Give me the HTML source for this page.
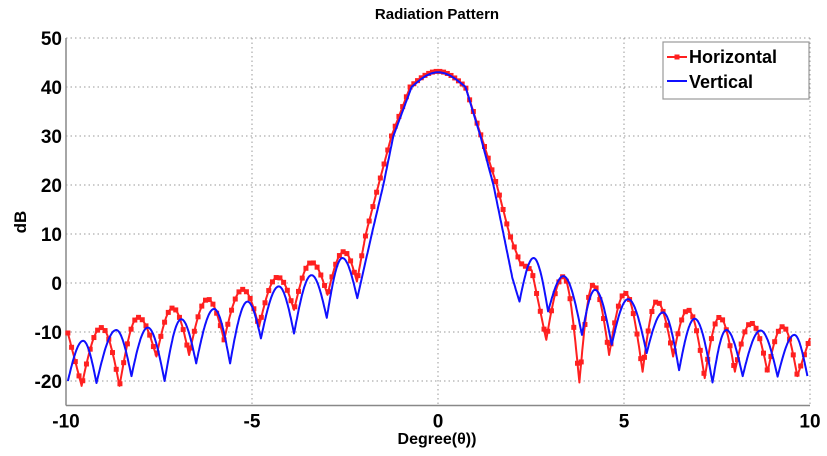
<!DOCTYPE html>
<html><head><meta charset="utf-8">
<style>
html,body{margin:0;padding:0;background:#fff;}
svg{display:block;font-family:"Liberation Sans",Arial,sans-serif;font-weight:bold;}
</style></head>
<body>
<svg id="chart" width="827" height="456" viewBox="0 0 827 456" xmlns="http://www.w3.org/2000/svg">
<text x="437" y="19" text-anchor="middle" font-size="15">Radiation Pattern</text>
<text transform="translate(26,222) rotate(-90)" text-anchor="middle" font-size="17">dB</text>
<text x="437" y="444" text-anchor="middle" font-size="16">Degree(θ))</text>
<g id="grid"></g>
<g id="axes"></g>
<g id="series"></g>
<g>
<rect x="663" y="42" width="146" height="57" fill="#fff" stroke="#999" stroke-width="1.2"/>
<g>
<line x1="667" y1="57" x2="687" y2="57" stroke="#ff2020" stroke-width="2"/>
<rect x="674.5" y="54.5" width="5" height="5" fill="#ff2020"/>
<text x="689" y="63" font-size="18">Horizontal</text>
</g>
<g>
<line x1="667" y1="81" x2="687" y2="81" stroke="#1010ff" stroke-width="2"/>
<text x="689" y="88" font-size="18">Vertical</text>
</g>
</g>
</svg>
<script>
const xTicks = [-10, -5, 0, 5, 10];
const xTickLabels = ["-10", "-5", "0", "5", "10"];
const yTicks = [50, 40, 30, 20, 10, 0, -10, -20];
const yTickLabels = ["50", "40", "30", "20", "10", "0", "-10", "-20"];
const vertX = [-9.95,-9.54,-9.18,-8.65,-8.24,-7.80,-7.35,-6.90,-6.50,-6.02,-5.59,-5.12,-4.76,-4.28,-3.87,-3.40,-2.99,-2.57,-2.17,-1.78,-1.47,-1.20,-0.71,0,0.74,1.14,1.49,1.76,2.0,2.19,2.57,2.96,3.37,3.87,4.22,4.67,5.11,5.61,6.05,6.48,6.90,7.38,7.75,8.19,8.67,9.13,9.58,9.93];
const vertY = [-20,-11.8,-20.4,-9.6,-19,-9.1,-20,-7.4,-16.4,-5.3,-16.4,-3.8,-11.3,-0.7,-10.3,1.6,-7.1,5.1,-3.1,10,20,30,40,43,40,30,20,10,1,-3.8,5.1,-5.8,1.4,-10.6,-1.4,-12.6,-3.3,-14.3,-6.0,-17.8,-7.3,-20.3,-9.6,-19,-9.7,-19.1,-10.6,-19];
const horzX = [-9.95,-9.58,-9.05,-8.56,-8.06,-7.57,-7.13,-6.69,-6.19,-5.75,-5.25,-4.81,-4.31,-3.87,-3.40,-2.97,-2.53,-2.18,-1.94,-1.6,-1.25,-0.75,0,0.74,1.16,1.58,1.92,2.21,2.52,2.91,3.37,3.80,4.17,4.60,5.03,5.50,5.88,6.32,6.72,7.17,7.57,7.98,8.42,8.86,9.27,9.66,10];
const horzY = [-10.2,-21,-9.1,-21,-7.0,-15,-5.1,-14.7,-3.3,-11.6,-1.3,-8.9,1.2,-5.5,4.2,-2.4,6.4,0.3,10,20,30,40,43.2,40,30,20,10,4.1,2.6,-11.6,1.3,-20.3,-0.4,-14.7,-2.1,-18.1,-3.8,-15,-5.5,-19.4,-7.0,-18.1,-8.2,-18.1,-8.9,-19,-11.2];

const NS = "http://www.w3.org/2000/svg";
const L = 66, R = 810, T = 38, B = 405.5;
const xMin = -10, xMax = 10, yMin = -25, yMax = 50;
function sx(v){ return L + (v - xMin) / (xMax - xMin) * (R - L); }
function sy(v){ return B - (v - yMin) / (yMax - yMin) * (B - T); }
function mk(tag, attrs, parent){
  const e = document.createElementNS(NS, tag);
  for (const k in attrs) e.setAttribute(k, attrs[k]);
  parent.appendChild(e);
  return e;
}
const grid = document.getElementById('grid');
const axes = document.getElementById('axes');
const series = document.getElementById('series');

yTicks.forEach((v, i) => {
  const g = mk('line', {x1: L, x2: R, y1: sy(v), y2: sy(v), stroke: '#999', 'stroke-width': 1, 'stroke-dasharray': '1.5 3'}, grid);
  
  
  const t = mk('text', {x: L - 4, y: sy(v) + 7, 'text-anchor': 'end', 'font-size': 19}, axes);
  t.textContent = yTickLabels[i];
  
  
});
xTicks.forEach((v, i) => {
  const g = mk('line', {x1: sx(v), x2: sx(v), y1: T, y2: B, stroke: '#999', 'stroke-width': 1, 'stroke-dasharray': '1.5 3'}, grid);
  
  
  const t = mk('text', {x: sx(v), y: B + 22, 'text-anchor': 'middle', 'font-size': 19}, axes);
  t.textContent = xTickLabels[i];
  
  
});
const ya = mk('line', {x1: L, x2: L, y1: T, y2: B, stroke: '#888', 'stroke-width': 1.5}, axes);


const xa = mk('line', {x1: L, x2: R, y1: B, y2: B, stroke: '#888', 'stroke-width': 1.5}, axes);



function isMax(ys, i){
  const l = i > 0 ? ys[i - 1] : -Infinity, r = i < ys.length - 1 ? ys[i + 1] : -Infinity;
  return ys[i] > l && ys[i] > r && i > 0 && i < ys.length - 1;
}
function dense(xs, ys){
  const out = [];
  const N = 24;
  for (let i = 0; i < xs.length - 1; i++){
    const ma = isMax(ys, i), mb = isMax(ys, i + 1);
    for (let s = 0; s < N; s++){
      const t = s / N;
      let f;
      if (mb && !ma) f = Math.sin(t * Math.PI / 2);          // flat at peak b
      else if (ma && !mb) f = 1 - Math.cos(t * Math.PI / 2); // flat at peak a
      else f = t;
      const x = xs[i] + (xs[i + 1] - xs[i]) * t;
      const y = ys[i] + (ys[i + 1] - ys[i]) * f;
      out.push([sx(x), sy(y)]);
    }
  }
  out.push([sx(xs[xs.length - 1]), sy(ys[ys.length - 1])]);
  return out;
}
function drawLine(xs, ys, color, name){
  const pts = dense(xs, ys);
  const el = mk('polyline', {points: pts.map(q => q[0].toFixed(1) + ',' + q[1].toFixed(1)).join(' '), fill: 'none', stroke: color, 'stroke-width': 2, 'stroke-linejoin': 'round'}, series);
  
  
  return pts;
}
const hp = drawLine(horzX, horzY, '#ff2020', 'horizontal-line');
for (let k = 0; k <= 250; k++){
  const xv = horzX[0] + k * 0.1;
  if (xv > horzX[horzX.length - 1]) break;
  const px = sx(xv);
  let j = 0;
  while (j < hp.length - 2 && hp[j + 1][0] < px) j++;
  const a = hp[j], b = hp[j + 1];
  const t = b[0] === a[0] ? 0 : (px - a[0]) / (b[0] - a[0]);
  const py = a[1] + (b[1] - a[1]) * Math.max(0, Math.min(1, t));
  const m = mk('rect', {x: px - 2.5, y: py - 2.5, width: 5, height: 5, fill: '#ff2020'}, series);
  
  
}
drawLine(vertX, vertY, '#1010ff', 'vertical-line');
</script>
</body></html>
